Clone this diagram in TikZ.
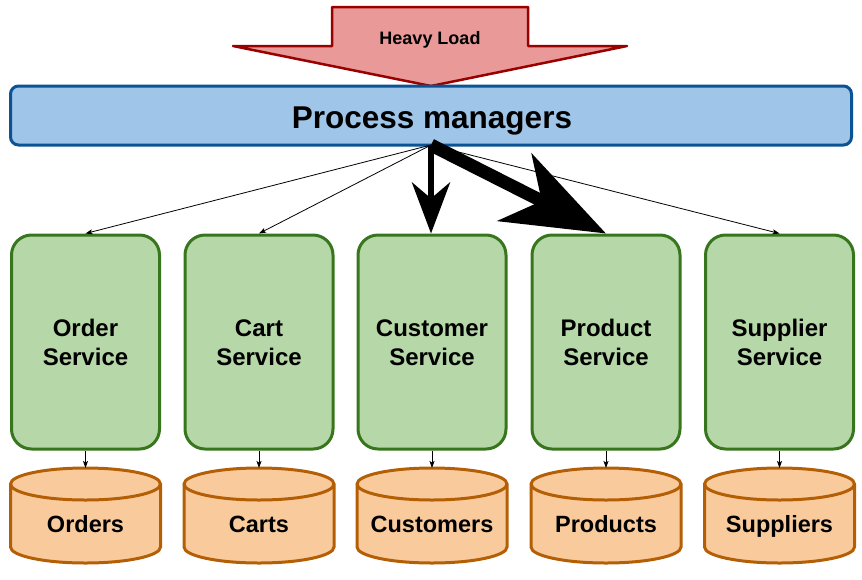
\documentclass[tikz,border=0pt]{standalone}
\usepackage{fontspec}
\setmainfont{Liberation Sans}
\usetikzlibrary{arrows.meta}
\definecolor{loadfill}{HTML}{EA9999}
\definecolor{loaddraw}{HTML}{990000}
\definecolor{pmfill}{HTML}{9FC5E8}
\definecolor{pmdraw}{HTML}{0B5394}
\definecolor{svcfill}{HTML}{B6D7A8}
\definecolor{svcdraw}{HTML}{38761D}
\definecolor{dbfill}{HTML}{F9CB9C}
\definecolor{dbdraw}{HTML}{B45F06}
\tikzset{
  svcbox/.style={draw=svcdraw, fill=svcfill, line width=3pt, rounded corners=20pt,
    minimum width=148pt, minimum height=214pt, inner sep=0pt, align=center,
    font=\fontsize{24}{29}\selectfont\bfseries},
  dblabel/.style={inner sep=0pt, anchor=base, font=\fontsize{23.5}{28}\selectfont\bfseries},
  dbshape/.style={draw=dbdraw, fill=dbfill, line width=3pt},
  thinarrow/.style={draw=black, line width=0.8pt, -{Stealth[length=7pt,width=5pt,inset=1.5pt]}},
  midarrow/.style={draw=black, line width=6.5pt, -{Stealth[length=51pt,width=38pt,inset=16pt]}},
  bigarrow/.style={draw=black, line width=13pt, -{Stealth[length=102pt,width=75pt,inset=30pt]}},
}
\newcommand{\svclabel}[2]{\vphantom{Ad}#1\\#2}
\begin{document}
\begin{tikzpicture}[x=1pt,y=-1pt]
\useasboundingbox (0,0) rectangle (862,579);

% Heavy load arrow
\draw[draw=loaddraw, fill=loadfill, line width=2.5pt, line join=round]
  (332,7) -- (528,7) -- (528,46) -- (627,46) -- (431,86) -- (233,46) -- (332,46) -- cycle;
\node[inner sep=0pt, anchor=base, font=\fontsize{18}{22}\selectfont\bfseries] (load) at (430,44.5) {Heavy Load};

% Process managers
\node[draw=pmdraw, fill=pmfill, line width=3pt, rounded corners=8pt,
  minimum width=841pt, minimum height=59pt, inner sep=0pt] (pm) at (431,115.5) {};
\node[inner sep=0pt, anchor=base, font=\fontsize{31.5}{36}\selectfont\bfseries] (pmlabel) at (432,128) {Process managers};

% Services
\node[svcbox] (order) at (85.5,342) {\svclabel{Order}{Service}};
\node[svcbox] (cart) at (259,342) {\svclabel{Cart}{Service}};
\node[svcbox] (customer) at (432,342) {\svclabel{Customer}{Service}};
\node[svcbox] (product) at (606,342) {\svclabel{Product}{Service}};
\node[svcbox] (supplier) at (779.5,342) {\svclabel{Supplier}{Service}};

% Databases
\foreach \cx/\nm/\txt in {85.5/orders/Orders, 259/carts/Carts, 432/customers/Customers, 606/products/Products, 779.5/suppliers/Suppliers}{
  \filldraw[dbshape] (\cx-75,484) -- (\cx-75,547) arc[start angle=180, end angle=360, x radius=75pt, y radius=16pt]
     -- (\cx+75,484) arc[start angle=0, end angle=180, x radius=75pt, y radius=16pt] -- cycle;
  \draw[dbshape, fill=none] (\cx-75,484) arc[start angle=180, end angle=360, x radius=75pt, y radius=16pt];
  \coordinate (\nm top) at (\cx,468);
  \node[dblabel] (\nm) at (\cx,532.5) {\txt};
}

% Connectors
\coordinate (src) at (431,145);
\draw[thinarrow] (src) -- (order.north);
\draw[thinarrow] (src) -- (cart.north);
\draw[thinarrow] (src) -- (supplier.north);
\draw[midarrow] (src) -- (customer.north -| src);
\draw[bigarrow] (src) -- (product.north);

\draw[thinarrow] (order.south) -- (orderstop);
\draw[thinarrow] (cart.south) -- (cartstop);
\draw[thinarrow] (customer.south) -- (customerstop);
\draw[thinarrow] (product.south) -- (productstop);
\draw[thinarrow] (supplier.south) -- (supplierstop);
\end{tikzpicture}
\end{document}
